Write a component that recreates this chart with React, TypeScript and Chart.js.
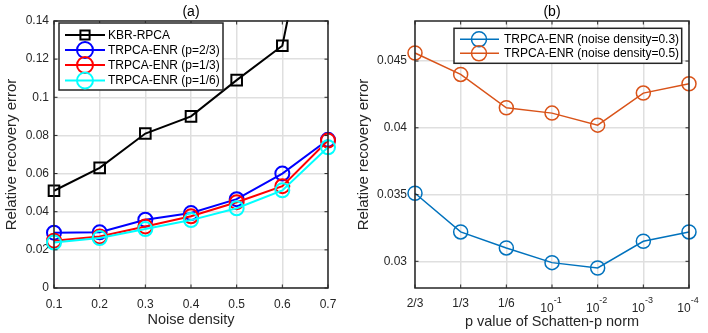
import React, { useEffect, useRef } from 'react';
import { Chart, registerables } from 'chart.js';

Chart.register(...registerables);

// ---------- data: panel (a) ----------
const noiseDensity = ['0.1', '0.2', '0.3', '0.4', '0.5', '0.6', '0.7'];
const kbrRpca = [0.051, 0.063, 0.081, 0.09, 0.109, 0.127, 0.245];
const trpcaP23 = [0.029, 0.0292, 0.0358, 0.0393, 0.0466, 0.06, 0.0777];
const trpcaP13 = [0.0248, 0.027, 0.0323, 0.0376, 0.045, 0.0534, 0.0773];
const trpcaP16 = [0.0238, 0.0262, 0.0309, 0.0356, 0.0418, 0.0512, 0.0738];
const leftYTicks = [0, 0.02, 0.04, 0.06, 0.08, 0.1, 0.12, 0.14];

// ---------- data: panel (b) ----------
const pValues = ['2/3', '1/3', '1/6', '10^-1', '10^-2', '10^-3', '10^-4'];
const noise03 = [0.0351, 0.0322, 0.031, 0.0299, 0.0295, 0.0315, 0.0322];
const noise05 = [0.0456, 0.044, 0.0415, 0.0411, 0.0402, 0.0426, 0.0433];
const rightYTicks = [0.03, 0.035, 0.04, 0.045];

const FONT = "'Liberation Sans', Arial, Helvetica, sans-serif";
const AXIS = '#262626';
const GRID = '#dfdfdf';

type LegendItem = { label: string; color: string; style: 'circle' | 'rect'; radius: number; lineWidth: number };

function drawMarker(ctx: CanvasRenderingContext2D, style: string, x: number, y: number, r: number) {
  ctx.beginPath();
  if (style === 'rect') {
    const s = Math.SQRT1_2 * r;
    ctx.rect(x - s, y - s, 2 * s, 2 * s);
  } else {
    ctx.arc(x, y, r, 0, Math.PI * 2);
  }
  ctx.stroke();
}

const panelPlugin = {
  id: 'panel',
  afterDatasetsDraw(chart: any, _args: any, opts: any) {
    const { ctx, chartArea: a, scales } = chart;
    const xs = scales.x;
    const ys = scales.y;
    ctx.save();
    // inward ticks on all four sides
    ctx.strokeStyle = AXIS;
    ctx.lineWidth = 1;
    const tl = 3.5;
    ctx.beginPath();
    for (let i = 0; i < xs.ticks.length; i++) {
      const px = xs.getPixelForTick(i);
      ctx.moveTo(px, a.bottom);
      ctx.lineTo(px, a.bottom - tl);
      ctx.moveTo(px, a.top);
      ctx.lineTo(px, a.top + tl);
    }
    for (const t of ys.ticks) {
      const py = ys.getPixelForValue(t.value);
      ctx.moveTo(a.left, py);
      ctx.lineTo(a.left + tl, py);
      ctx.moveTo(a.right, py);
      ctx.lineTo(a.right - tl, py);
    }
    ctx.stroke();
    // box
    ctx.lineWidth = 1.5;
    ctx.strokeRect(a.left, a.top, a.right - a.left, a.bottom - a.top);

    // title
    ctx.fillStyle = '#000';
    ctx.font = `14px ${FONT}`;
    ctx.textAlign = 'center';
    ctx.textBaseline = 'alphabetic';
    ctx.fillText(opts.title, (a.left + a.right) / 2, 15.5);

    // custom x tick labels (with superscripts)
    if (opts.customX) {
      ctx.fillStyle = AXIS;
      opts.customX.forEach((lab: string, i: number) => {
        const px = xs.getPixelForValue(i);
        if (lab.includes('^')) {
          const [base, exp] = lab.split('^');
          ctx.font = `12px ${FONT}`;
          const wb = ctx.measureText(base).width;
          ctx.font = `9px ${FONT}`;
          const we = ctx.measureText(exp).width;
          const x0 = px - (wb + we) / 2 - 1;
          ctx.textAlign = 'left';
          ctx.font = `12px ${FONT}`;
          ctx.fillText(base, x0, 311.7);
          ctx.font = `9px ${FONT}`;
          ctx.fillText(exp, x0 + wb, 302.7);
        } else {
          ctx.textAlign = 'center';
          ctx.font = `12px ${FONT}`;
          ctx.fillText(lab, px, 307.3);
        }
      });
    }

    // legend
    const lg = opts.legend;
    ctx.fillStyle = '#fff';
    ctx.fillRect(lg.x, lg.y, lg.w, lg.h);
    ctx.strokeStyle = AXIS;
    ctx.lineWidth = 1.5;
    ctx.strokeRect(lg.x, lg.y, lg.w, lg.h);
    lg.items.forEach((it: LegendItem, i: number) => {
      const y = lg.rows[i];
      ctx.strokeStyle = it.color;
      ctx.lineWidth = it.lineWidth;
      ctx.beginPath();
      ctx.moveTo(lg.x0, y);
      ctx.lineTo(lg.x1, y);
      ctx.stroke();
      drawMarker(ctx, it.style, lg.mx, y, it.radius);
      ctx.fillStyle = '#000';
      ctx.font = `12px ${FONT}`;
      ctx.textAlign = 'left';
      ctx.textBaseline = 'middle';
      ctx.fillText(it.label, lg.tx, y + 0.5);
    });
    ctx.restore();
  },
};

function fmt(v: number) {
  return String(+Number(v).toFixed(4));
}

function ds(label: string, data: number[], color: string, style: string, radius: number, lw: number, order: number, clip: any) {
  return {
    label,
    data,
    borderColor: color,
    backgroundColor: color,
    borderWidth: lw,
    pointStyle: style,
    pointRadius: radius,
    pointBorderWidth: lw,
    pointBorderColor: color,
    pointBackgroundColor: 'rgba(0,0,0,0)',
    tension: 0,
    order,
    clip,
  };
}

function makeLeft(canvas: HTMLCanvasElement) {
  const noClip = { left: false, right: false, top: false, bottom: false };
  return new Chart(canvas, {
    type: 'line',
    data: {
      labels: noiseDensity,
      datasets: [
        ds('KBR-RPCA', kbrRpca, '#000000', 'rect', 7.5, 2, 3, { left: false, right: false, top: 1, bottom: false }),
        ds('TRPCA-ENR (p=2/3)', trpcaP23, '#0000ff', 'circle', 7, 2, 2, noClip),
        ds('TRPCA-ENR (p=1/3)', trpcaP13, '#ff0000', 'circle', 7, 2, 1, noClip),
        ds('TRPCA-ENR (p=1/6)', trpcaP16, '#00ffff', 'circle', 7, 2, 0, noClip),
      ] as any,
    },
    options: {
      animation: false,
      responsive: false,
      events: [],
      layout: { padding: { left: 0, right: 26, top: 21, bottom: 0 } },
      plugins: {
        legend: { display: false },
        tooltip: { enabled: false },
        panel: {
          title: '(a)',
          legend: {
            x: 59, y: 23, w: 164, h: 67,
            rows: [35, 50, 65, 80.5],
            x0: 65, x1: 105, mx: 85, tx: 108,
            items: [
              { label: 'KBR-RPCA', color: '#000000', style: 'rect', radius: 6.5, lineWidth: 2 },
              { label: 'TRPCA-ENR (p=2/3)', color: '#0000ff', style: 'circle', radius: 8, lineWidth: 2 },
              { label: 'TRPCA-ENR (p=1/3)', color: '#ff0000', style: 'circle', radius: 8, lineWidth: 2 },
              { label: 'TRPCA-ENR (p=1/6)', color: '#00ffff', style: 'circle', radius: 8, lineWidth: 2 },
            ],
          },
        },
      } as any,
      scales: {
        x: {
          type: 'category',
          offset: false,
          grid: { color: GRID, lineWidth: 1.5, drawTicks: false },
          border: { display: false },
          ticks: { autoSkip: false, maxRotation: 0, padding: 9, color: AXIS, font: { size: 12, family: FONT } },
          title: { display: true, text: 'Noise density', color: AXIS, font: { size: 14.5, family: FONT, lineHeight: 1 }, padding: { top: 0, bottom: 5.5 } },
          afterFit: (s: any) => { s.height = 45; },
        },
        y: {
          type: 'linear',
          min: 0,
          max: 0.14,
          grid: { color: GRID, lineWidth: 1.5, drawTicks: false },
          border: { display: false },
          afterBuildTicks: (s: any) => { s.ticks = leftYTicks.map((v) => ({ value: v })); },
          ticks: { padding: 5, color: AXIS, font: { size: 12, family: FONT }, callback: (v: any) => fmt(v) },
          title: { display: true, text: 'Relative recovery error', color: AXIS, font: { size: 15, family: FONT, lineHeight: 1 }, padding: { top: 4, bottom: 0 } },
          afterFit: (s: any) => { s.width = 54; },
        },
      } as any,
    },
    plugins: [panelPlugin],
  } as any);
}

function makeRight(canvas: HTMLCanvasElement) {
  const noClip = { left: false, right: false, top: false, bottom: false };
  return new Chart(canvas, {
    type: 'line',
    data: {
      labels: pValues,
      datasets: [
        ds('TRPCA-ENR (noise density=0.3)', noise03, '#0072bd', 'circle', 7, 1.5, 1, noClip),
        ds('TRPCA-ENR (noise density=0.5)', noise05, '#d95319', 'circle', 7, 1.5, 0, noClip),
      ] as any,
    },
    options: {
      animation: false,
      responsive: false,
      events: [],
      layout: { padding: { left: 0, right: 19, top: 21, bottom: 0 } },
      plugins: {
        legend: { display: false },
        tooltip: { enabled: false },
        panel: {
          title: '(b)',
          customX: pValues,
          legend: {
            x: 100, y: 28.3, w: 227.7, h: 35,
            rows: [39.3, 53.3],
            x0: 106, x1: 145, mx: 125, tx: 150,
            items: [
              { label: 'TRPCA-ENR (noise density=0.3)', color: '#0072bd', style: 'circle', radius: 7.5, lineWidth: 1.5 },
              { label: 'TRPCA-ENR (noise density=0.5)', color: '#d95319', style: 'circle', radius: 7.5, lineWidth: 1.5 },
            ],
          },
        },
      } as any,
      scales: {
        x: {
          type: 'category',
          offset: false,
          grid: { color: GRID, lineWidth: 1.5, drawTicks: false },
          border: { display: false },
          ticks: { display: false },
          title: { display: true, text: 'p value of Schatten-p norm', color: AXIS, font: { size: 14.5, family: FONT, lineHeight: 1 }, padding: { top: 0, bottom: 4 } },
          afterFit: (s: any) => { s.height = 45; },
        },
        y: {
          type: 'linear',
          min: 0.028,
          max: 0.048,
          grid: { color: GRID, lineWidth: 1.5, drawTicks: false },
          border: { display: false },
          afterBuildTicks: (s: any) => { s.ticks = rightYTicks.map((v) => ({ value: v })); },
          ticks: { padding: 8, color: AXIS, font: { size: 12, family: FONT }, callback: (v: any) => fmt(v) },
          title: { display: true, text: 'Relative recovery error', color: AXIS, font: { size: 15, family: FONT, lineHeight: 1 }, padding: { top: 2.5, bottom: 0 } },
          afterFit: (s: any) => { s.width = 61; },
        },
      } as any,
    },
    plugins: [panelPlugin],
  } as any);
}

export default function App() {
  const leftRef = useRef<HTMLCanvasElement>(null);
  const rightRef = useRef<HTMLCanvasElement>(null);
  useEffect(() => {
    const c1 = makeLeft(leftRef.current!);
    const c2 = makeRight(rightRef.current!);
    return () => {
      c1.destroy();
      c2.destroy();
    };
  }, []);
  return (
    <div style={{ position: 'absolute', left: 0, top: 0, width: 708, height: 333, background: '#fff', display: 'flex' }}>
      <canvas ref={leftRef} width={354} height={333} style={{ display: 'block', width: 354, height: 333 }} />
      <canvas ref={rightRef} width={354} height={333} style={{ display: 'block', width: 354, height: 333 }} />
    </div>
  );
}
